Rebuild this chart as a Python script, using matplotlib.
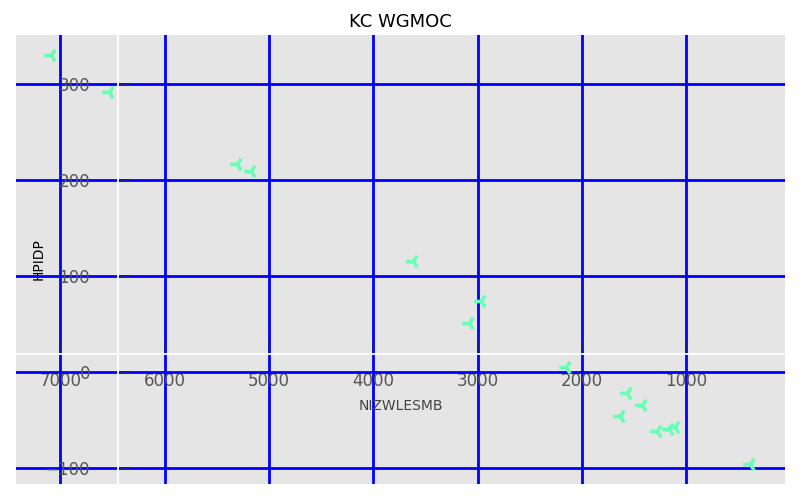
import matplotlib.pyplot as plt

plt.style.use("ggplot")

# values
nizwlesmb = [7089, 6530, 5310, 5169, 3623, 2968, 3080, 2153, 1572, 1428, 1635, 1284, 1169, 1105, 389]
hpidp = [330, 292, 217, 209, 115, 74, 51, 5, -22, -35, -46, -62, -60, -58, -96]
x_ticks = [0, 1000, 2000, 3000, 4000, 5000, 6000, 7000]
y_ticks = [-100, 0, 100, 200, 300]

fig = plt.figure(figsize=(8, 5), dpi=100)
ax = fig.add_axes([0.02, 0.032, 0.961, 0.898])
ax.set_facecolor("#e5e5e5")

ax.scatter(nizwlesmb, hpidp, marker="3", s=110, linewidths=2.6,
           color="#66ffb3", zorder=5)

ax.invert_xaxis()
ax.set_xticks(x_ticks)
ax.set_yticks(y_ticks)
ax.set_xlim(7424, 56)
ax.set_ylim(-117, 351)

ax.grid(True, color="blue", linewidth=2.0)
ax.set_axisbelow(True)

for side in ["top", "right"]:
    ax.spines[side].set_visible(False)
ax.spines["left"].set_position(("axes", 0.1326))
ax.spines["bottom"].set_position(("axes", 0.2895))
for side in ["left", "bottom"]:
    ax.spines[side].set_visible(True)
    ax.spines[side].set_color("white")
    ax.spines[side].set_linewidth(1.3)
    ax.spines[side].set_zorder(3)

ax.tick_params(axis="x", direction="in", length=9, width=1.2, color="#1a1a99",
               pad=13, labelsize=12, labelcolor="#555555")
ax.tick_params(axis="y", direction="in", length=9, width=1.2, color="#1a1a99",
               pad=20, labelsize=12, labelcolor="#555555")

ax.set_title("KC WGMOC", fontsize=13, color="black", pad=6)
ax.set_xlabel("NIZWLESMB", fontsize=10, color="#444444")
ax.set_ylabel("HPIDP", fontsize=10, color="black")
ax.xaxis.set_label_coords(0.5, 0.19)
ax.yaxis.set_label_coords(0.039, 0.5)

fig.savefig("out.png")
